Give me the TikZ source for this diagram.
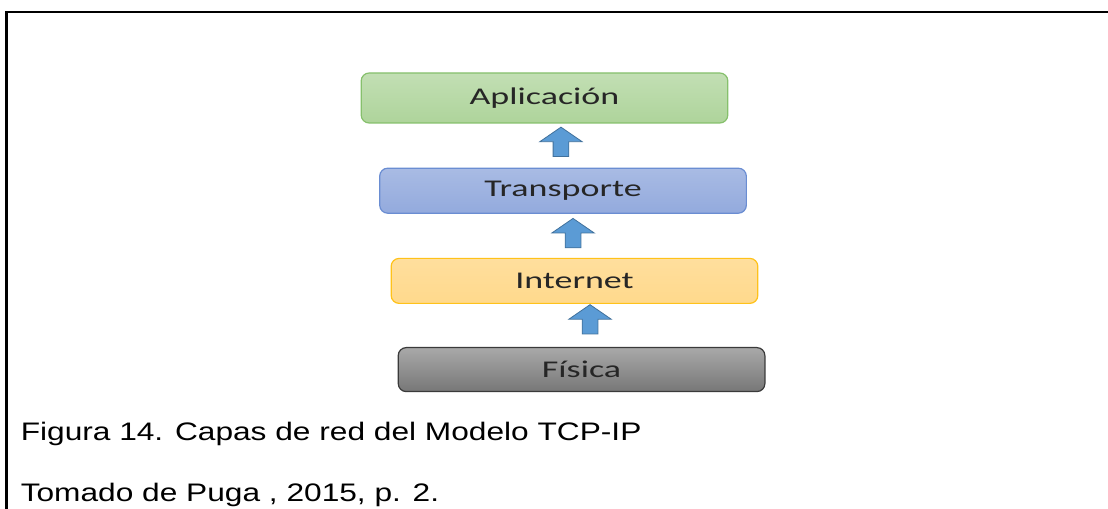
\documentclass[tikz,border=0pt]{standalone}
\usepackage{fontspec}
\setmainfont{Liberation Sans}
\newfontfamily\layerfont[FakeStretch=1.5]{Carlito}
\newfontfamily\captionfont[FakeStretch=1.25]{Liberation Sans}
\usetikzlibrary{positioning,calc,shapes.arrows}
\definecolor{appfill}{HTML}{AED49B}
\definecolor{appline}{HTML}{86C06C}
\definecolor{trnfill}{HTML}{93AADD}
\definecolor{trnline}{HTML}{6A8DD2}
\definecolor{netfill}{HTML}{FFD98C}
\definecolor{netline}{HTML}{FFC21A}
\definecolor{phyfill}{HTML}{8C8C8C}
\definecolor{phyline}{HTML}{3A3A3A}
\definecolor{arrfill}{HTML}{5B9BD5}
\definecolor{arrline}{HTML}{41719C}
\tikzset{
  layerbox/.style={
    rounded corners=6pt,
    line width=0.9pt,
    minimum width=275pt,
    minimum height=33.75pt,
    inner sep=0pt,
    align=center,
    text=black!85,
    font=\layerfont\fontsize{18}{21}\selectfont
  },
  upblock/.style={
    single arrow,
    draw=arrline,
    fill=arrfill,
    line width=0.6pt,
    shape border rotate=90,
    inner xsep=5.6pt,
    inner ysep=0pt,
    minimum width=31.5pt,
    minimum height=22pt,
    single arrow head extend=10pt,
    single arrow tip angle=111
  },
  captext/.style={
    anchor=base west,
    inner sep=0pt,
    font=\captionfont\fontsize{19}{23}\selectfont
  }
}

\begin{document}
\begin{tikzpicture}[x=0.75pt,y=0.75pt,node distance=33pt]
  \useasboundingbox (0,0) rectangle (1108,509);
  \draw[line width=1.6pt] (6.5,0) -- (6.5,497) -- (1108,497);
  \node[layerbox, minimum height=37.5pt, draw=appline, top color=appfill!75!white, bottom color=appfill] (aplic) at (544.5,411) {Aplicación};
  \node[layerbox, draw=trnline, top color=trnfill!80!white, bottom color=trnfill, below=of aplic, xshift=13.9pt] (transp) {Transporte};
  \node[layerbox, draw=netline, top color=netfill!85!white, bottom color=netfill, below=of transp, xshift=8.6pt] (inet) {Internet};
  \node[layerbox, minimum height=33pt, draw=phyline, top color=phyfill!75!white, bottom color=phyfill!85!black, below=of inet, xshift=5.3pt, yshift=0.75pt] (fisica) {Física};
  \node[upblock] (up1) at ($(transp.north)!0.5!(aplic.south)+(5.4pt,0.8pt)$) {};
  \node[upblock] (up2) at ($(inet.north)!0.5!(transp.south)+(3.2pt,0pt)$) {};
  \node[upblock] (up3) at ($(fisica.north)!0.5!(inet.south)+(9pt,2.6pt)$) {};
  \node[captext] (fig) at (20.5,68.5) {Figura 14. Capas de red del Modelo TCP-IP};
  \node[captext] (src) at (20.5,7) {Tomado de Puga , 2015, p. 2.};
\end{tikzpicture}
\end{document}
